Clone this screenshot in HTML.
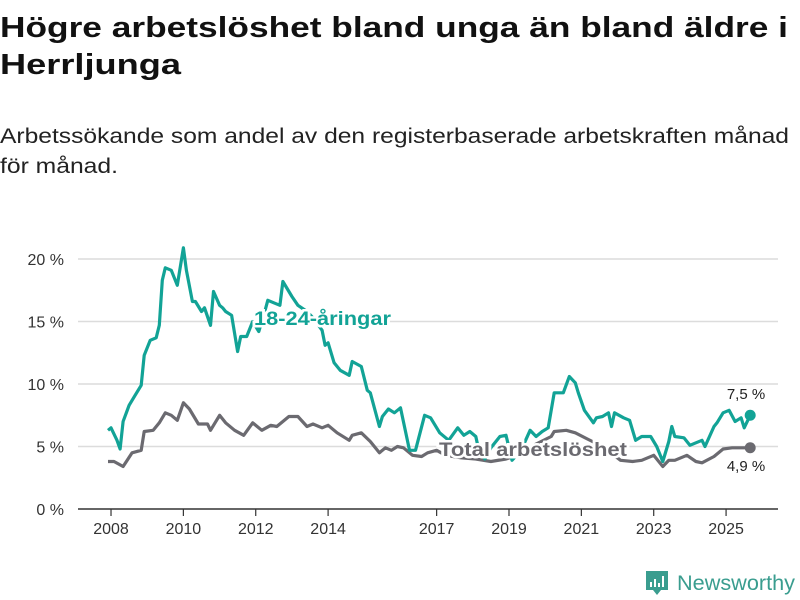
<!DOCTYPE html>
<html><head><meta charset="utf-8"><style>
html,body{margin:0;padding:0;background:#fff;}
svg{display:block;font-family:"Liberation Sans",sans-serif;}
</style></head><body>
<svg id="chart" width="800" height="600" viewBox="0 0 800 600">
<text x="0" y="37" font-size="29" font-weight="bold" fill="#111" textLength="788" lengthAdjust="spacingAndGlyphs">Högre arbetslöshet bland unga än bland äldre i</text>
<text x="0" y="74" font-size="29" font-weight="bold" fill="#111" textLength="181" lengthAdjust="spacingAndGlyphs">Herrljunga</text>
<text x="0" y="143" font-size="21" fill="#222" textLength="789" lengthAdjust="spacingAndGlyphs">Arbetssökande som andel av den registerbaserade arbetskraften månad</text>
<text x="0" y="173" font-size="21" fill="#222" textLength="118" lengthAdjust="spacingAndGlyphs">för månad.</text>
<g id="grid"></g>
<g id="xaxis"></g>
<g id="lines"></g>
<g id="labels"></g>
<g>
<path d="M646 571 h22 v19 h-7 l-4 5 l-4 -5 h-7 z" fill="#3a9d8f"/>
<rect x="650" y="582" width="2" height="5" fill="#fff"/><rect x="654" y="579" width="2" height="8" fill="#fff"/><rect x="658" y="583" width="2" height="4" fill="#fff"/><rect x="662" y="576" width="2" height="11" fill="#fff"/>
<text x="677" y="590" font-size="21" fill="#3a9d8f" textLength="118" lengthAdjust="spacingAndGlyphs">Newsworthy</text>
</g>
</svg>
<script>
const yTicks = [0, 5, 10, 15, 20];
const yTickLabels = ["0 %", "5 %", "10 %", "15 %", "20 %"];
const xTickYears = [2008, 2010, 2012, 2014, 2017, 2019, 2021, 2023, 2025];
// months since Jan 2008
const youthMonths = [0,1,3,4,5,7,9,11,12,14,16,17,18,19,21,23,25,26,28,29,31,32,34,35,37,38,39,41,43,44,46,48,50,52,53,55,57,58,61,63,66,68,71,72,73,75,77,80,81,84,86,87,90,91,93,95,97,100,102,105,107,110,113,116,118,120,122,123,125,127,130,132,134,137,140,142,144,146,148,151,153,155,156,158,161,162,164,166,167,168,171,173,175,177,180,182,184,186,187,188,191,193,195,197,198,201,202,204,206,208,210,211,213];
const youthValues = [6.3,6.5,5.5,4.8,7.0,8.3,9.1,9.9,12.3,13.5,13.7,14.7,18.3,19.3,19.1,17.9,20.9,19.1,16.6,16.6,15.8,16.1,14.7,17.4,16.3,16.1,15.8,15.5,12.6,13.8,13.8,15.0,14.2,15.8,16.7,16.5,16.3,18.2,17.0,16.3,15.8,15.3,14.3,13.1,13.3,11.7,11.1,10.7,11.8,11.4,9.5,9.3,6.6,7.4,8.0,7.7,8.1,4.7,4.7,7.5,7.3,6.1,5.5,6.5,5.9,6.2,5.8,4.7,4.0,4.9,5.8,5.9,3.9,4.7,6.3,5.8,6.2,6.5,9.3,9.3,10.6,10.1,9.3,7.9,6.9,7.3,7.4,7.7,6.6,7.7,7.3,7.1,5.5,5.8,5.8,5.0,3.8,5.4,6.6,5.8,5.7,5.1,5.3,5.5,5.0,6.6,6.9,7.7,7.9,7.0,7.3,6.5,7.5];
const totalMonths = [0,2,5,8,11,12,15,17,19,21,23,25,27,30,33,34,37,39,42,45,48,51,54,56,60,63,66,68,71,73,76,80,81,84,87,90,92,94,96,98,101,104,106,109,112,117,122,127,132,137,142,147,148,152,155,159,164,170,174,177,181,184,186,188,192,195,197,201,204,207,211,213];
const totalValues = [3.8,3.8,3.4,4.5,4.7,6.2,6.3,6.9,7.7,7.5,7.1,8.5,8.0,6.8,6.8,6.3,7.5,6.9,6.3,5.9,6.9,6.3,6.7,6.6,7.4,7.4,6.6,6.8,6.5,6.7,6.1,5.5,5.9,6.1,5.4,4.5,4.9,4.7,5.0,4.9,4.3,4.2,4.5,4.7,4.3,4.1,4.0,3.8,4.0,4.4,5.2,5.8,6.2,6.3,6.1,5.6,5.0,3.9,3.8,3.9,4.3,3.4,3.9,3.9,4.3,3.8,3.7,4.2,4.8,4.9,4.9,4.9];
const youthLast = "7,5 %";
const totalLast = "4,9 %";

const NS = "http://www.w3.org/2000/svg";
function xS(m){ return 108 + m * 3.015; }
function yS(v){ return 509 - v * 12.5; }
function mk(tag, attrs, parent){ const e=document.createElementNS(NS,tag); for(const k in attrs) e.setAttribute(k,attrs[k]); parent.appendChild(e); return e; }

const grid=document.getElementById('grid');
yTicks.forEach((t,i)=>{
  if(t>0){ const g=mk('line',{x1:78,x2:778,y1:yS(t),y2:yS(t),stroke:'#dcdcdc','stroke-width':1.5},grid);
  
   }
  const l=mk('text',{x:64,y:yS(t)+6,'text-anchor':'end','font-size':16,fill:'#333'},grid);
  l.textContent=yTickLabels[i];
  
  
});
const xa=document.getElementById('xaxis');
const ax=mk('line',{x1:78,x2:778,y1:509,y2:509,stroke:'#333','stroke-width':1.5},xa);


xTickYears.forEach(yr=>{
  const x=xS((yr-2008)*12+1);
  const t=mk('line',{x1:x,x2:x,y1:509,y2:516,stroke:'#333','stroke-width':1.2},xa);
  
  
  const l=mk('text',{x:x,y:534,'text-anchor':'middle','font-size':16,fill:'#333'},xa);
  l.textContent=yr;
  
  
});
const ln=document.getElementById('lines');
function series(ms,vs,color,name){
  const d=ms.map((m,i)=>(i?'L':'M')+xS(m).toFixed(1)+' '+yS(vs[i]).toFixed(1)).join(' ');
  const p=mk('path',{d:d,fill:'none',stroke:color,'stroke-width':3.2,'stroke-linejoin':'round'},ln);
  
  
  const c=mk('circle',{cx:xS(ms[ms.length-1]),cy:yS(vs[vs.length-1]),r:5.5,fill:color},ln);
  
  
}
series(totalMonths,totalValues,'#6b6a70','total');
series(youthMonths,youthValues,'#12a396','youth');
const lb=document.getElementById('labels');
function lab(x,y,txt,color,size,bold,name,anchor,len){
  const a={x:x,y:y,'font-size':size,'font-weight':bold?'bold':'normal',fill:color,stroke:'#fff','stroke-width':bold?5:0,'paint-order':'stroke','text-anchor':anchor||'start'};
  if(len){a.textLength=len;a.lengthAdjust='spacingAndGlyphs';}
  const t=mk('text',a,lb);
  t.textContent=txt;
  
  
  return t;
}
lab(254,325,'18-24-åringar','#12a396',19,true,'youth-series-label','start',137);
lab(439,456,'Total arbetslöshet','#6b6a70',19,true,'total-series-label','start',188);
lab(746,399,youthLast,'#222',15,false,'youth-last-value','middle');
lab(746,471,totalLast,'#222',15,false,'total-last-value','middle');
</script>
</body></html>
